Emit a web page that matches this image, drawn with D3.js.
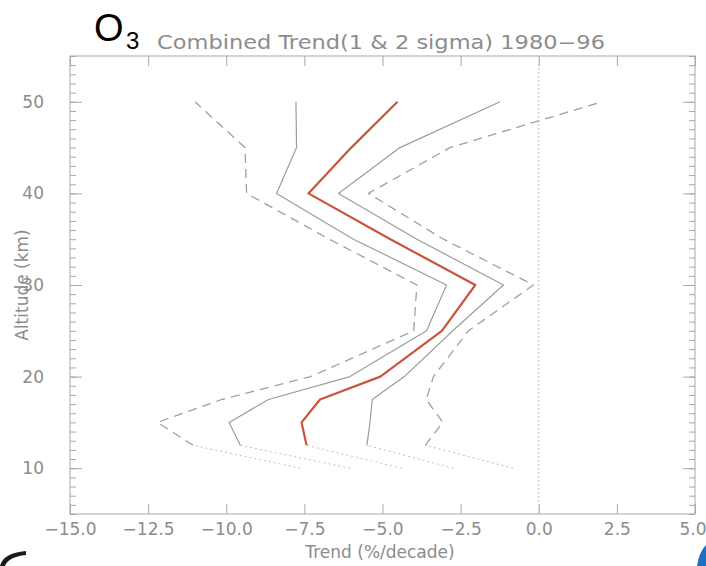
<!DOCTYPE html>
<html>
<head>
<meta charset="utf-8">
<script src="https://cdn.jsdelivr.net/npm/d3@7"></script>
<style>
  body { margin: 0; background: #fff; }
  svg { display: block; }
  text { font-family: "DejaVu Sans", sans-serif; }
</style>
</head>
<body>
<script>
// altitudes (km); the 10 km point is the dotted extension
var altitudes = [10, 12.5, 15, 17.5, 20, 25, 30, 35, 40, 45, 50];

// combined trend (%/decade) and 1 / 2 sigma envelopes
var trend   = [-4.39, -7.43, -7.59, -7.00, -5.07, -3.10, -2.03, -4.75, -7.37, -6.00, -4.52];
var lo1     = [-6.04, -9.55, -9.91, -8.65, -6.04, -3.59, -2.95, -5.93, -8.39, -7.75, -7.77];
var hi1     = [-2.73, -5.50, -5.40, -5.33, -4.30, -2.75, -1.13, -3.90, -6.41, -4.44, -1.24];
var lo2     = [-7.63, -11.06, -12.20, -10.15, -7.30, -4.00, -3.90, -6.70, -9.35, -9.40, -11.00];
var hi2     = [-0.82, -3.63, -3.07, -3.60, -3.37, -2.25, -0.17, -3.05, -5.45, -2.84, 2.02];

var xTicks = [-15, -12.5, -10, -7.5, -5, -2.5, 0, 2.5, 5];
var yTicks = [10, 20, 30, 40, 50];

var W = 706, H = 566;
var svg = d3.select("body").append("svg").attr("width", W).attr("height", H);

var x = d3.scaleLinear().domain([-15, 5]).range([70, 695]);
var y = d3.scaleLinear().domain([5, 55]).range([514, 56]);

var axisCol = "#a8a8a8", textCol = "#8c8c8c";

// frame
svg.append("rect")
  .attr("x", x(-15)).attr("y", y(55))
  .attr("width", x(5) - x(-15)).attr("height", y(5) - y(55))
  .attr("fill", "none").attr("stroke", axisCol).attr("stroke-width", 1);

// axes (ticks point inward)
var yMinor = d3.range(5, 56, 1);
function tickStyle(g) {
  g.select(".domain").remove();
  g.selectAll(".tick line").attr("stroke", axisCol);
  g.selectAll(".tick text").attr("fill", textCol).style("font-size", "17px")
    .style("font-family", "DejaVu Sans, sans-serif");
}
svg.append("g").attr("transform", "translate(" + x(-15) + ",0)")
  .call(d3.axisLeft(y).tickValues(yMinor).tickSize(-6).tickFormat(""))
  .call(tickStyle);
svg.append("g").attr("transform", "translate(" + x(-15) + ",0)")
  .call(d3.axisLeft(y).tickValues(yTicks).tickSize(-12).tickPadding(26).tickFormat(d3.format("d")))
  .call(tickStyle);
svg.append("g").attr("transform", "translate(" + x(5) + ",0)")
  .call(d3.axisRight(y).tickValues(yMinor).tickSize(-6).tickFormat(""))
  .call(tickStyle);
svg.append("g").attr("transform", "translate(" + x(5) + ",0)")
  .call(d3.axisRight(y).tickValues(yTicks).tickSize(-12).tickFormat(""))
  .call(tickStyle);
var xAxisG = svg.append("g").attr("transform", "translate(0," + y(5) + ")")
  .call(d3.axisBottom(x).tickValues(xTicks).tickSize(-10).tickPadding(9)
    .tickFormat(function(d){ return d3.format(".1f")(d).replace("-", "\u2212"); }))
  .call(tickStyle);
// last label sits against the right edge of the picture
xAxisG.selectAll(".tick text").filter(function(d){ return d === 5; })
  .attr("text-anchor", "end").attr("dx", 11);
svg.append("g").attr("transform", "translate(0," + y(55) + ")")
  .call(d3.axisTop(x).tickValues(xTicks).tickSize(-10).tickFormat(""))
  .call(tickStyle);

// zero line
svg.append("line")
  .attr("x1", x(0)).attr("x2", x(0)).attr("y1", y(5)).attr("y2", y(55))
  .attr("stroke", "#c4c4c4").attr("stroke-dasharray", "2,2").attr("stroke-width", 1);

var line = d3.line().x(function(d){ return x(d[0]); }).y(function(d){ return y(d[1]); });

var series = [
  { v: lo2, color: "#a0a0a0", width: 1.3, dash: "9,6" },
  { v: hi2, color: "#a0a0a0", width: 1.3, dash: "9,6" },
  { v: lo1, color: "#9c9c9c", width: 1.2, dash: null },
  { v: hi1, color: "#9c9c9c", width: 1.2, dash: null },
  { v: trend, color: "#c8553c", width: 2.2, dash: null }
];

series.forEach(function(s) {
  var pts = s.v.map(function(v, i){ return [v, altitudes[i]]; });
  // dotted extension down to 10 km
  svg.append("path").attr("d", line(pts.slice(0, 2)))
    .attr("fill", "none").attr("stroke", "#c0c0c0").attr("stroke-width", 1)
    .attr("stroke-dasharray", "2,3");
  svg.append("path").attr("d", line(pts.slice(1)))
    .attr("fill", "none").attr("stroke", s.color).attr("stroke-width", s.width)
    .attr("stroke-dasharray", s.dash).attr("stroke-linejoin", "round");
});

// titles
svg.append("text").attr("x", 94).attr("y", 41).attr("fill", "#000")
  .style("font-size", "38px").style("font-family", "Liberation Sans, sans-serif").text("O");
svg.append("text").attr("x", 126).attr("y", 49).attr("fill", "#000")
  .style("font-size", "24px").style("font-family", "Liberation Sans, sans-serif").text("3");
svg.append("text").attr("x", 157).attr("y", 49).attr("fill", textCol)
  .style("font-size", "19px").attr("textLength", 448).attr("lengthAdjust", "spacingAndGlyphs")
  .text("Combined Trend(1 & 2 sigma) 1980\u221296");

svg.append("text").attr("x", 380).attr("y", 558).attr("text-anchor", "middle")
  .attr("fill", textCol).style("font-size", "17px").text("Trend (%/decade)");
svg.append("text").attr("transform", "translate(28,285) rotate(-90)").attr("text-anchor", "middle")
  .attr("fill", textCol).style("font-size", "17px").text("Altitude (km)");

// bits of neighbouring artwork cut by the crop
svg.append("path").attr("d", "M0,566 Q3,553 26,551 L26,555 Q8,557 5,566 Z").attr("fill", "#1a1a1a");
svg.append("path").attr("d", "M706,545 Q699,552 697,566 L706,566 Z").attr("fill", "#1f6fc0");
</script>
</body>
</html>
